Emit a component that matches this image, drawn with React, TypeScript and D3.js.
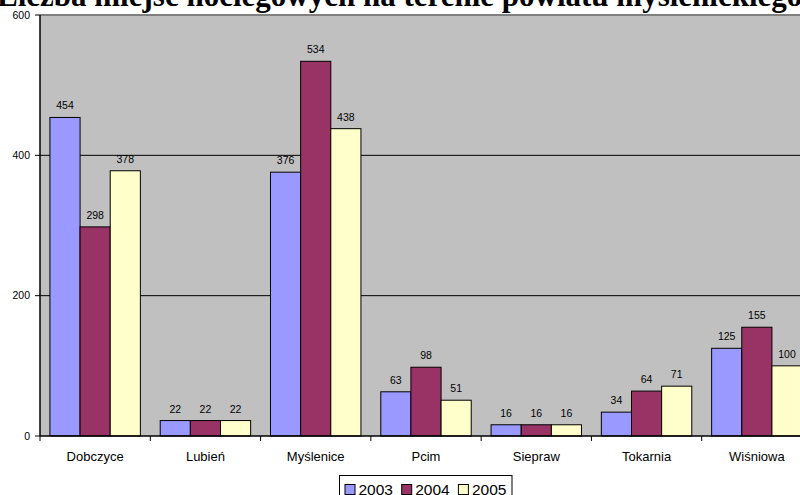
import React from "react";
import * as d3 from "d3";

const title = "Liczba miejsc noclegowych na terenie powiatu myślenickiego";
const categories = ["Dobczyce", "Lubień", "Myślenice", "Pcim", "Siepraw", "Tokarnia", "Wiśniowa"];
const seriesNames = ["2003", "2004", "2005"];
const values2003 = [454, 22, 376, 63, 16, 34, 125];
const values2004 = [298, 22, 534, 98, 16, 64, 155];
const values2005 = [378, 22, 438, 51, 16, 71, 100];
const seriesValues = [values2003, values2004, values2005];
const colors = ["#9999FF", "#993366", "#FFFFCC"];
const yTicks = [0, 200, 400, 600];

export default function App() {
  const W = 800, H = 495;
  const left = 40, right = 812, top = 15, bottom = 436;
  const x0 = d3.scaleBand<string>().domain(categories).range([left, right]).paddingInner(0).paddingOuter(0);
  const bw = x0.bandwidth();
  const x1 = d3.scaleBand<string>().domain(seriesNames).range([bw * 0.09, bw * 0.91]).padding(0);
  const y = d3.scaleLinear().domain([0, 600]).range([bottom, top]);
  const font = "Arial, 'Liberation Sans', sans-serif";

  return (
    <svg width={W} height={H} style={{ position: "absolute", left: 0, top: 0, display: "block" }}>
      <rect x={0} y={0} width={W} height={H} fill="#ffffff" />
      <text x={-3} y={6} fontFamily="'Times New Roman', 'Liberation Serif', serif" fontWeight="bold" fontSize={31} fill="#000">
        {title}
      </text>
      <rect x={left} y={top} width={right - left} height={bottom - top} fill="#C0C0C0" />
      <line x1={left} x2={right} y1={top} y2={top} stroke="#808080" strokeWidth={2} />
      {yTicks.filter((t) => t > 0 && t < 600).map((t) => (
        <line key={"g" + t} x1={left} x2={right} y1={y(t)} y2={y(t)} stroke="#000" strokeWidth={1} />
      ))}
      {categories.map((c, i) => (
        <g key={c} transform={`translate(${x0(c)},0)`}>
          {seriesNames.map((s, j) => {
            const v = seriesValues[j][i];
            return (
              <g key={s}>
                <rect x={x1(s)} y={y(v)} width={x1.bandwidth()} height={y(0) - y(v)} fill={colors[j]} stroke="#000" strokeWidth={1} />
                <text x={(x1(s) as number) + x1.bandwidth() / 2} y={y(v) - 8} textAnchor="middle" fontFamily={font} fontSize={10.5} fill="#000">
                  {v}
                </text>
              </g>
            );
          })}
          <text x={bw / 2} y={bottom + 25} textAnchor="middle" fontFamily={font} fontSize={13} fill="#000">
            {c}
          </text>
        </g>
      ))}
      <line x1={left} x2={left} y1={top} y2={bottom} stroke="#000" strokeWidth={1.5} />
      <line x1={left} x2={right} y1={bottom} y2={bottom} stroke="#000" strokeWidth={1.5} />
      {yTicks.map((t) => (
        <g key={"t" + t}>
          <line x1={left - 5} x2={left} y1={y(t)} y2={y(t)} stroke="#000" />
          <text x={left - 10} y={y(t) + 3.5} textAnchor="end" fontFamily={font} fontSize={10.5} fill="#000">
            {t}
          </text>
        </g>
      ))}
      {categories.map((c) => (
        <line key={"xt" + c} x1={x0(c)} x2={x0(c)} y1={bottom} y2={bottom + 5} stroke="#000" />
      ))}
      <g>
        <rect x={339.5} y={475.5} width={172.5} height={30} fill="#fff" stroke="#000" strokeWidth={1} />
        {seriesNames.map((s, j) => {
          const lx = 345 + j * 56.7;
          return (
            <g key={"l" + s}>
              <rect x={lx} y={484.5} width={10} height={10} fill={colors[j]} stroke="#000" strokeWidth={1} />
              <text x={lx + 13.5} y={494.5} fontFamily={font} fontSize={15.5} fill="#000">
                {s}
              </text>
            </g>
          );
        })}
      </g>
    </svg>
  );
}
